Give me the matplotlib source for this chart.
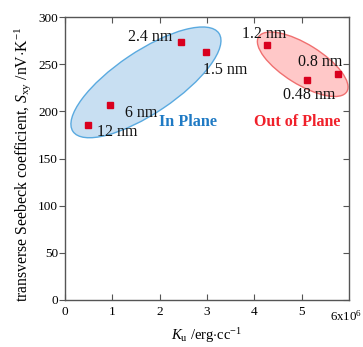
import matplotlib
matplotlib.use("Agg")
import matplotlib.pyplot as plt
from matplotlib.patches import Ellipse

# data
ku = [0.48, 0.95, 2.45, 2.98, 4.26, 5.12, 5.76]
sxy = [186, 207, 273, 263, 270, 233, 240]
labels = ["12 nm", "6 nm", "2.4 nm", "1.5 nm", "1.2 nm", "0.48 nm", "0.8 nm"]
label_pos = [(0.67, 178), (1.27, 198), (1.33, 279), (2.91, 244),
             (3.73, 282), (4.61, 217), (4.93, 252)]
xticks = [0, 1, 2, 3, 4, 5]
yticks = [0, 50, 100, 150, 200, 250, 300]

plt.rcParams['font.family'] = ['Liberation Serif', 'DejaVu Serif']
plt.rcParams['mathtext.fontset'] = 'custom'
plt.rcParams['mathtext.rm'] = 'Liberation Serif'
plt.rcParams['mathtext.it'] = 'Liberation Serif:italic'

fig = plt.figure(figsize=(3.63, 3.47), dpi=100)
ax = fig.add_axes([65/363, 47/347, 284/363, 283/347])
ax.set_xlim(0, 6)
ax.set_ylim(0, 300)

# ellipses in axes coordinates
ax.add_patch(Ellipse((0.285, 0.769), 0.62, 0.219, angle=34,
                     transform=ax.transAxes, facecolor='#c8dff2',
                     edgecolor='#5aaae0', lw=1.0, zorder=1))
ax.add_patch(Ellipse((0.837, 0.833), 0.366, 0.141, angle=-32,
                     transform=ax.transAxes, facecolor='#ffc8c8',
                     edgecolor='#f07070', lw=1.0, zorder=1))

ax.plot(ku, sxy, 's', color='#d9001e', markersize=4.4, zorder=3, lw=0)

for lab, (x, y) in zip(labels, label_pos):
    ax.text(x, y, lab, fontsize=11.5, ha='left', va='center', color='#111111', zorder=4)

ax.text(1.99, 189, "In Plane", fontsize=11.7, fontweight='bold', color='#1f7ac4',
        ha='left', va='center', zorder=4)
ax.text(3.99, 188.4, "Out of Plane", fontsize=11.5, fontweight='bold', color='#f0202a',
        ha='left', va='center', zorder=4)

ax.set_xticks(xticks)
ax.set_xticklabels([str(t) for t in xticks])
ax.set_yticks(yticks)
ax.tick_params(axis='x', direction='in', top=True, length=4, labelsize=9.5,
               pad=4, color='#555555')
ax.tick_params(axis='y', direction='out', length=4, labelsize=9.5, pad=1,
               color='#555555')
for sp in ax.spines.values():
    sp.set_color('#555555')
    sp.set_linewidth(1.0)
# right ticks inward
ax.yaxis.set_tick_params(which='major', right=True)
for t in ax.yaxis.get_major_ticks():
    t.tick2line.set_marker(matplotlib.lines.TICKLEFT)

fig.text(362/363, 1 - 316/347, "6x10$^6$", fontsize=9.3, ha='right', va='center')

ax.set_xlabel("$K_\\mathrm{u}$ /erg$\\cdot$cc$^{\\mathrm{-1}}$", fontsize=10.5, labelpad=6)
ax.set_ylabel("transverse Seebeck coefficient, $S_\\mathrm{xy}$ /nV$\\cdot$K$^{\\mathrm{-1}}$",
              fontsize=11.3)
ax.yaxis.set_label_coords(-0.113, 0.48)

fig.savefig("out.png", dpi=100)
